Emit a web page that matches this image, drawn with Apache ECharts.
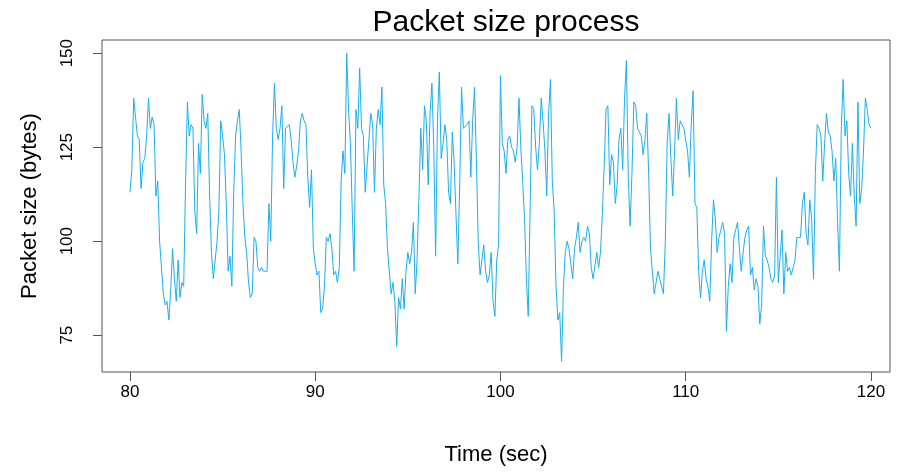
<!DOCTYPE html>
<html>
<head>
<meta charset="utf-8">
<script src="https://cdn.jsdelivr.net/npm/echarts@6/dist/echarts.min.js"></script>
<style>
  html, body { margin: 0; padding: 0; background: #fff; }
  #chart { width: 900px; height: 472px; }
</style>
</head>
<body>
<div id="chart"></div>
<script>
  // time axis: one reading every 0.1 s from 80 s
  const startTime = 80
  const timeStep = 0.1
  // packet size (bytes)
  const packetSizes = [
    113, 119, 138, 133, 128, 127, 114, 121, 122, 128,
    138, 130, 133, 131, 112, 116, 100, 93, 86, 83,
    84, 79, 87, 98, 90, 84, 95, 85, 89, 88,
    115, 137, 128, 131, 130, 108, 102, 126, 118, 139,
    132, 130, 134, 112, 97, 90, 95, 100, 108, 132,
    128, 123, 110, 92, 96, 88, 113, 128, 132, 135,
    124, 110, 101, 97, 89, 85, 86, 101, 100, 93,
    92, 93, 92, 92, 92, 110, 100, 128, 142, 130,
    127, 130, 136, 114, 130, 130, 131, 127, 121, 117,
    120, 124, 132, 134, 132, 131, 117, 109, 119, 98,
    94, 91, 92, 81, 82, 88, 101, 100, 102, 98,
    91, 92, 89, 93, 116, 124, 118, 150, 135, 126,
    108, 92, 135, 130, 146, 130, 128, 113, 120, 127,
    134, 131, 113, 130, 135, 131, 141, 115, 110, 98,
    92, 86, 89, 84, 72, 85, 82, 90, 82, 92,
    97, 94, 97, 105, 86, 95, 112, 130, 119, 136,
    132, 115, 134, 142, 125, 96, 132, 145, 122, 126,
    131, 127, 113, 110, 129, 121, 107, 94, 115, 141,
    130, 130, 131, 132, 117, 132, 141, 122, 100, 91,
    95, 99, 92, 89, 91, 97, 84, 80, 95, 99,
    144, 126, 124, 118, 127, 128, 125, 124, 121, 125,
    138, 125, 116, 106, 90, 80, 108, 136, 135, 125,
    119, 126, 138, 132, 124, 112, 134, 143, 116, 108,
    88, 79, 81, 68, 88, 97, 100, 98, 94, 90,
    98, 101, 105, 97, 100, 101, 100, 104, 102, 93,
    90, 90, 97, 93, 97, 107, 120, 135, 136, 115,
    123, 121, 110, 115, 127, 130, 119, 138, 148, 117,
    104, 118, 137, 136, 130, 129, 128, 123, 127, 134,
    118, 98, 98, 86, 89, 92, 90, 90, 86, 100,
    126, 134, 122, 112, 124, 138, 127, 132, 131, 130,
    130, 124, 117, 131, 140, 110, 109, 92, 85, 92,
    95, 90, 88, 84, 100, 111, 106, 97, 101, 103,
    105, 102, 76, 88, 94, 89, 101, 103, 105, 98,
    92, 97, 101, 103, 104, 91, 93, 87, 90, 88,
    78, 83, 104, 96, 95, 93, 90, 89, 91, 117,
    89, 96, 103, 86, 97, 92, 93, 91, 93, 95,
    101, 101, 101, 110, 113, 102, 99, 111, 106, 90,
    118, 131, 130, 128, 116, 126, 134, 129, 128, 124,
    116, 122, 105, 92, 130, 143, 128, 132, 118, 112,
    126, 112, 104, 137, 110, 114, 124, 138, 135, 131,
    130
  ]
  const xTicks = [80, 90, 100, 110, 120]
  const yTicks = [75, 100, 125, 150]

  const seriesData = packetSizes.map((v, i) => [startTime + i * timeStep, v])

  const chart = echarts.init(document.getElementById('chart'))
  const font = 'Liberation Sans, Arial, sans-serif'
  const option = {
    animation: false,
    title: {
      text: 'Packet size process',
      left: 501,
      top: 3,
      textAlign: 'center',
      textStyle: { fontFamily: font, fontSize: 30, fontWeight: 'normal', color: '#000' }
    },
    grid: {
      left: 102,
      top: 40,
      width: 788,
      height: 332,
      show: true,
      borderColor: '#555',
      borderWidth: 1,
      backgroundColor: '#fff'
    },
    xAxis: {
      type: 'value',
      min: 78.49,
      max: 121.03,
      name: 'Time (sec)',
      nameLocation: 'middle',
      nameGap: 72,
      nameTextStyle: { fontFamily: font, fontSize: 22, color: '#000' },
      axisLine: { show: false },
      axisTick: { show: true, customValues: xTicks, length: 9, lineStyle: { color: '#555' } },
      axisLabel: { customValues: xTicks, margin: 12, fontFamily: font, fontSize: 17, color: '#000' },
      splitLine: { show: false }
    },
    yAxis: {
      type: 'value',
      min: 65.2,
      max: 153.5,
      name: 'Packet size (bytes)',
      nameLocation: 'middle',
      nameGap: 61,
      nameRotate: 90,
      nameTextStyle: { fontFamily: font, fontSize: 22, color: '#000' },
      axisLine: { show: false },
      axisTick: { show: true, customValues: yTicks, length: 9, lineStyle: { color: '#555' } },
      axisLabel: { customValues: yTicks, rotate: 90, margin: 26, fontFamily: font, fontSize: 17, color: '#000' },
      splitLine: { show: false }
    },
    series: [{
      type: 'line',
      data: seriesData,
      showSymbol: false,
      sampling: 'none',
      lineStyle: { color: '#1AB0EC', width: 1 }
    }]
  }
  chart.setOption(option)
</script>
</body>
</html>
